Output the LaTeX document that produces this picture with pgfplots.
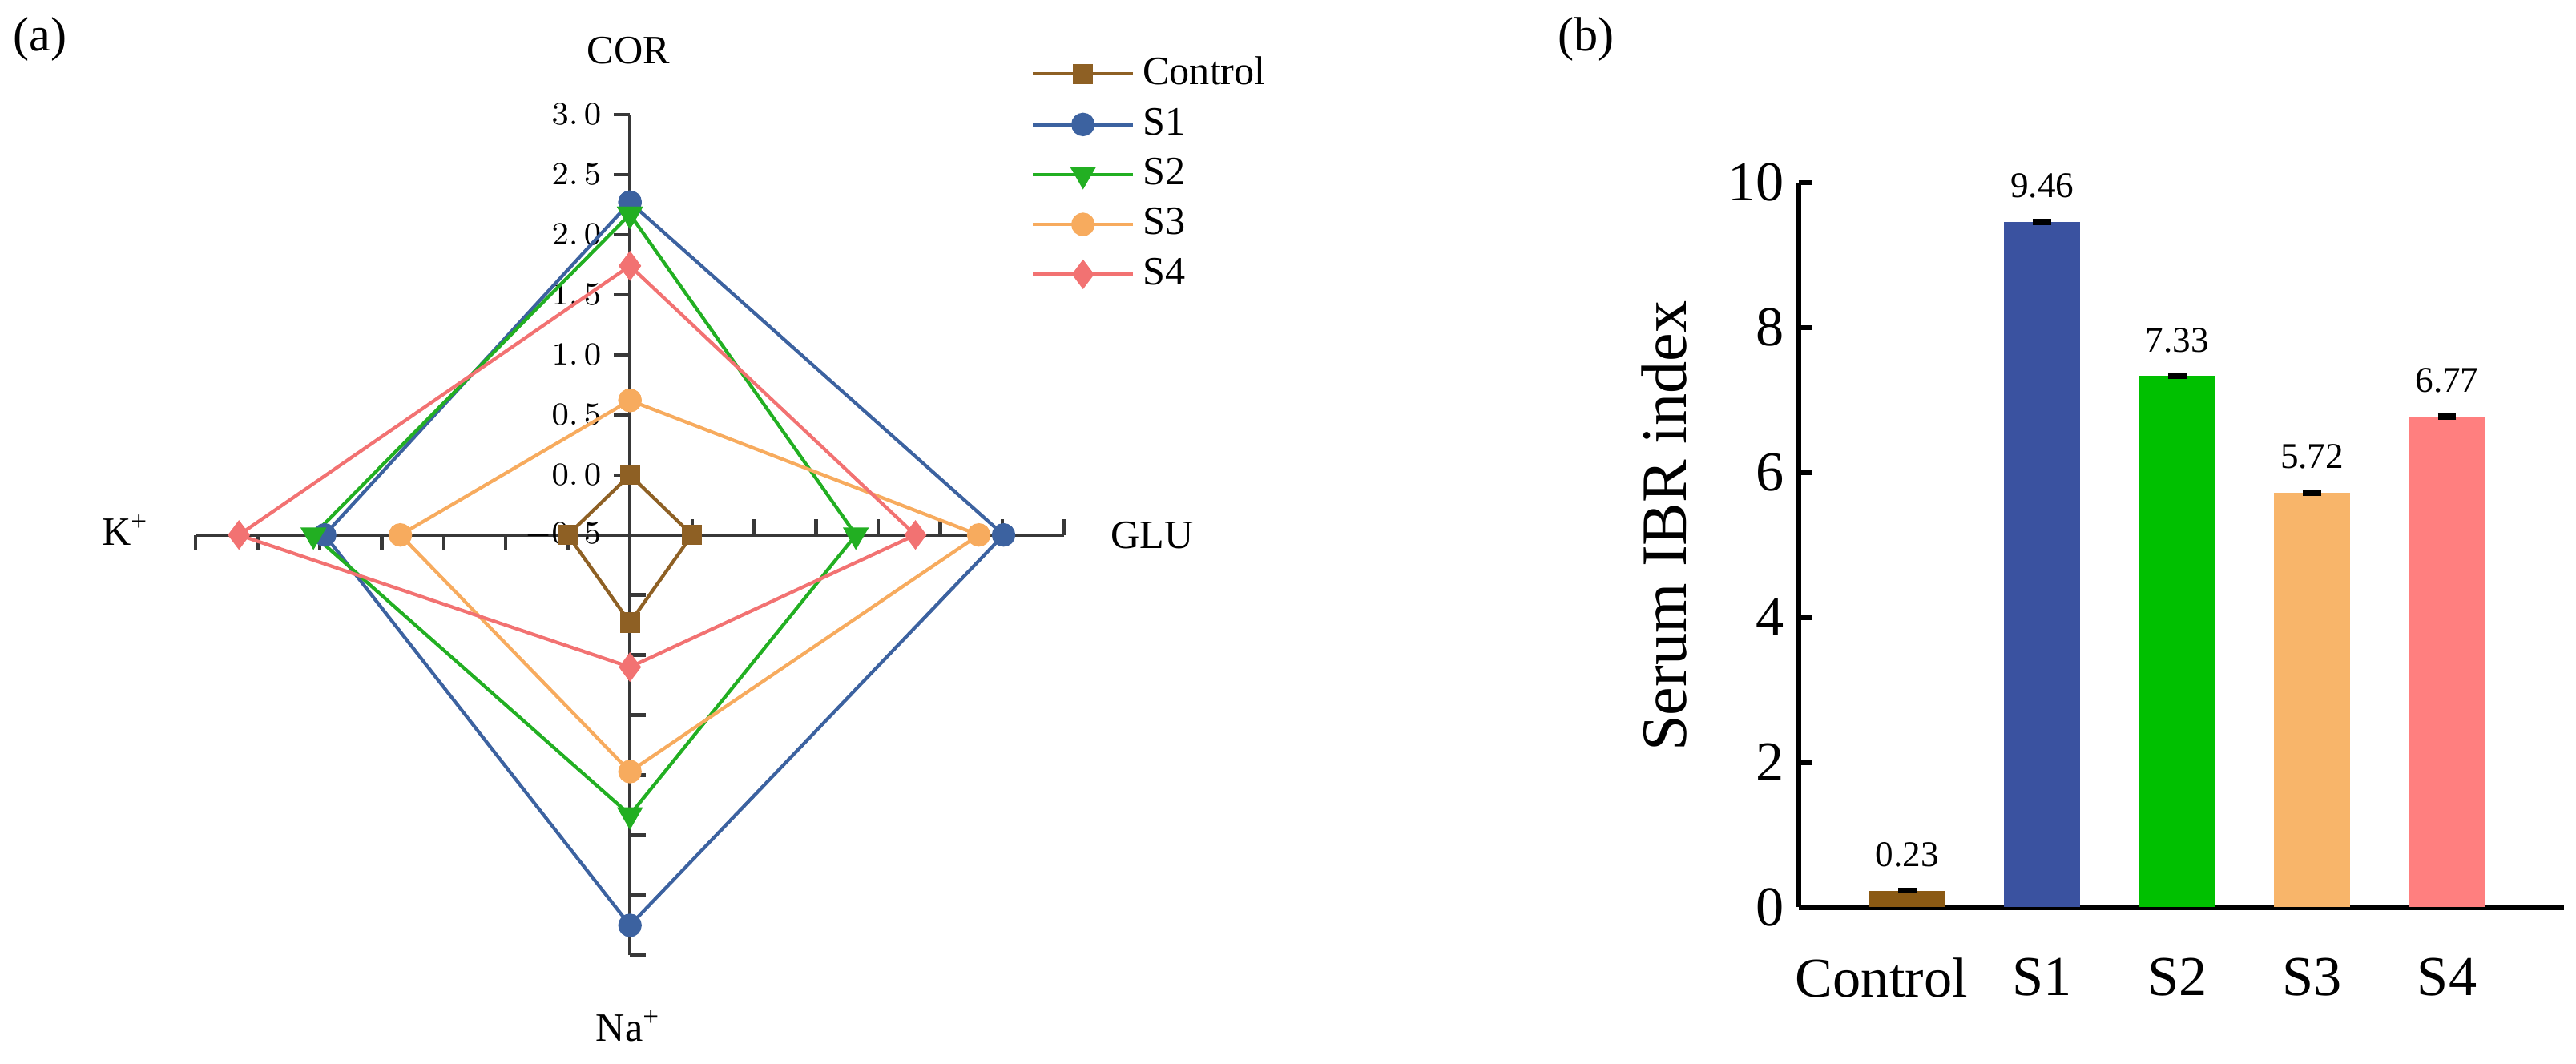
\documentclass[border=0pt]{standalone}
\usepackage{fontspec}
\setmainfont{Liberation Serif}
\usepackage{pgfplots}
\usepackage{pgfplotstable}
\pgfplotsset{compat=1.18}

% radar line colours
\definecolor{rCtrl}{HTML}{8E6024}
\definecolor{rS1}{HTML}{3C62A0}
\definecolor{rS2}{HTML}{22AF22}
\definecolor{rS3}{HTML}{F7AB5E}
\definecolor{rS4}{HTML}{F27272}
% bar colours
\definecolor{bCtrl}{HTML}{8B5A14}
\definecolor{bS1}{HTML}{3A52A0}
\definecolor{bS2}{HTML}{00C000}
\definecolor{bS3}{HTML}{F8B56A}
\definecolor{bS4}{HTML}{FF7F7F}
\definecolor{axgray}{HTML}{383838}

\tikzset{
    tl/.style={anchor=east, inner sep=0pt, xshift=-0.245cm, font=\fontsize{8}{9}\selectfont},
    axc/.style={draw=axgray, line width=0.85pt},
}

% radar values (axis scale starts at -0.5 in the centre)
\pgfplotstableread{
var dx dy ctrl s1 s2 s3 s4
COR 0 1 0.00 2.27 2.17 0.62 1.74
GLU 1 0 0.00 2.51 1.32 2.31 1.80
Na 0 -1 0.23 2.75 1.83 1.47 0.60
K -1 0 0.00 1.96 2.05 1.35 2.65
COR 0 1 0.00 2.27 2.17 0.62 1.74
}\radar

\begin{document}
\begin{tikzpicture}
\path (0,0) rectangle (22.505,9.296);

% panel labels
\node[font=\fontsize{12}{14}\selectfont] at (0.34,8.95) {(a)};
\node[font=\fontsize{12}{14}\selectfont] at (13.85,8.95) {(b)};

% radar axis names
\node[font=\fontsize{10}{12}\selectfont] at (5.481,8.855) {COR};
\node[font=\fontsize{10}{12}\selectfont] at (10.059,4.62) {GLU};
\node[font=\fontsize{10}{12}\selectfont] at (5.481,0.33) {Na\textsuperscript{+}};
\node[font=\fontsize{10}{12}\selectfont] at (1.085,4.66) {K\textsuperscript{+}};

\begin{axis}[
    at={(5.495cm,4.62cm)}, anchor=center,
    scale only axis,
    width=7.595cm, height=7.35cm,
    xmin=-3.5, xmax=3.5, ymin=-3.5, ymax=3.5,
    axis lines=none,
    clip=false,
    legend style={
        at={(axis description cs:0.961,1.079)}, anchor=north west,
        draw=none, fill=none,
        font=\fontsize{10}{12}\selectfont,
        inner xsep=0pt, inner ysep=0pt,
        row sep=0.3pt,
        cells={anchor=west},
    },
    legend image code/.code={
        \draw[mark repeat=2,mark phase=2]
            plot coordinates {(0cm,0cm) (0.4375cm,0cm) (0.875cm,0cm)};
    },
]
    % radar cross and its ticks
    \draw[axc] (axis cs:-3.5,0) -- (axis cs:3.5,0);
    \draw[axc] (axis cs:0,-3.5) -- (axis cs:0,3.5);
    \draw[axc]
        (axis cs:0,0.5) -- (axis cs:-0.13,0.5) (axis cs:0,1) -- (axis cs:-0.13,1)
        (axis cs:0,1.5) -- (axis cs:-0.13,1.5) (axis cs:0,2) -- (axis cs:-0.13,2)
        (axis cs:0,2.5) -- (axis cs:-0.13,2.5) (axis cs:0,3) -- (axis cs:-0.13,3)
        (axis cs:0,3.5) -- (axis cs:-0.13,3.5);
    \draw[axc]
        (axis cs:0,-0.5) -- (axis cs:0.13,-0.5) (axis cs:0,-1) -- (axis cs:0.13,-1)
        (axis cs:0,-1.5) -- (axis cs:0.13,-1.5) (axis cs:0,-2) -- (axis cs:0.13,-2)
        (axis cs:0,-2.5) -- (axis cs:0.13,-2.5) (axis cs:0,-3) -- (axis cs:0.13,-3)
        (axis cs:0,-3.5) -- (axis cs:0.13,-3.5);
    \draw[axc]
        (axis cs:0.5,0) -- (axis cs:0.5,0.13) (axis cs:1,0) -- (axis cs:1,0.13)
        (axis cs:1.5,0) -- (axis cs:1.5,0.13) (axis cs:2,0) -- (axis cs:2,0.13)
        (axis cs:2.5,0) -- (axis cs:2.5,0.13) (axis cs:3,0) -- (axis cs:3,0.13)
        (axis cs:3.5,0) -- (axis cs:3.5,0.13);
    \draw[axc]
        (axis cs:-0.5,0) -- (axis cs:-0.5,-0.13) (axis cs:-1,0) -- (axis cs:-1,-0.13)
        (axis cs:-1.5,0) -- (axis cs:-1.5,-0.13) (axis cs:-2,0) -- (axis cs:-2,-0.13)
        (axis cs:-2.5,0) -- (axis cs:-2.5,-0.13) (axis cs:-3,0) -- (axis cs:-3,-0.13)
        (axis cs:-3.5,0) -- (axis cs:-3.5,-0.13);
    \node[tl] at (axis cs:0,3.5) {$3.\,0$};
    \node[tl] at (axis cs:0,3.0) {$2.\,5$};
    \node[tl] at (axis cs:0,2.5) {$2.\,0$};
    \node[tl] at (axis cs:0,2.0) {$1.\,5$};
    \node[tl] at (axis cs:0,1.5) {$1.\,0$};
    \node[tl] at (axis cs:0,1.0) {$0.\,5$};
    \node[tl] at (axis cs:0,0.5) {$0.\,0$};
    \node[tl] at (axis cs:0,0.0) {$-0.\,5$};

    \addplot[color=rCtrl, line width=0.85pt, mark=square*, mark size=2.1pt, mark options={solid, fill=rCtrl}]
        table[x expr=\thisrow{dx}*(\thisrow{ctrl}+0.5), y expr=\thisrow{dy}*(\thisrow{ctrl}+0.5)] {\radar};
    \addplot[color=rS1, line width=0.85pt, mark=*, mark size=2.5pt, mark options={solid, fill=rS1}]
        table[x expr=\thisrow{dx}*(\thisrow{s1}+0.5), y expr=\thisrow{dy}*(\thisrow{s1}+0.5)] {\radar};
    \addplot[color=rS2, line width=0.85pt, mark=triangle*, mark size=2.9pt, mark options={solid, fill=rS2, rotate=180}]
        table[x expr=\thisrow{dx}*(\thisrow{s2}+0.5), y expr=\thisrow{dy}*(\thisrow{s2}+0.5)] {\radar};
    \addplot[color=rS3, line width=0.85pt, mark=*, mark size=2.5pt, mark options={solid, fill=rS3}]
        table[x expr=\thisrow{dx}*(\thisrow{s3}+0.5), y expr=\thisrow{dy}*(\thisrow{s3}+0.5)] {\radar};
    \addplot[color=rS4, line width=0.85pt, mark=diamond*, mark size=3pt, mark options={solid, fill=rS4}]
        table[x expr=\thisrow{dx}*(\thisrow{s4}+0.5), y expr=\thisrow{dy}*(\thisrow{s4}+0.5)] {\radar};
    \legend{Control, S1, S2, S3, S4}
\end{axis}

% bar chart
\begin{axis}[
    at={(15.708cm,1.365cm)}, anchor=south west,
    scale only axis,
    width=6.692cm, height=6.335cm,
    xmin=-0.807, xmax=4.867,
    ymin=0, ymax=10,
    ytick={0,2,4,6,8,10},
    xtick={0,1,2,3,4},
    xticklabels={\hspace*{-0.45cm}Control,S1,S2,S3,S4},
    axis x line=bottom, axis y line=left,
    axis line style={-, line width=1.4pt, black},
    ybar, bar width=0.665cm, bar shift=0pt,
    ytick align=inside,
    major tick length=0.12cm,
    ytick style={line width=1.3pt, black},
    xtick style={draw=none},
    /pgf/number format/assume math mode=true,
    tick label style={font=\fontsize{14}{16}\selectfont},
    xticklabel style={yshift=-0.2cm},
    ylabel={Serum IBR index},
    ylabel style={at={(axis description cs:-0.175,0.526)}, anchor=center, font=\fontsize{16}{18}\selectfont},
    nodes near coords,
    nodes near coords style={font=\fontsize{9}{10}\selectfont, anchor=south, inner sep=0pt, yshift=0.2cm,
        /pgf/number format/.cd, fixed, precision=2, fixed zerofill, assume math mode=true},
    error bars/y dir=both, error bars/y explicit,
    error bars/error bar style={black, line width=0.8pt},
    error bars/error mark options={rotate=90, mark size=0.08cm, black, line width=0.8pt},
]
    \addplot[fill=bCtrl, draw=none] coordinates {(0,0.23) +- (0,0.02)};
    \addplot[fill=bS1, draw=none] coordinates {(1,9.46) +- (0,0.02)};
    \addplot[fill=bS2, draw=none] coordinates {(2,7.33) +- (0,0.02)};
    \addplot[fill=bS3, draw=none] coordinates {(3,5.72) +- (0,0.02)};
    \addplot[fill=bS4, draw=none] coordinates {(4,6.77) +- (0,0.02)};
\end{axis}
\end{tikzpicture}
\end{document}
